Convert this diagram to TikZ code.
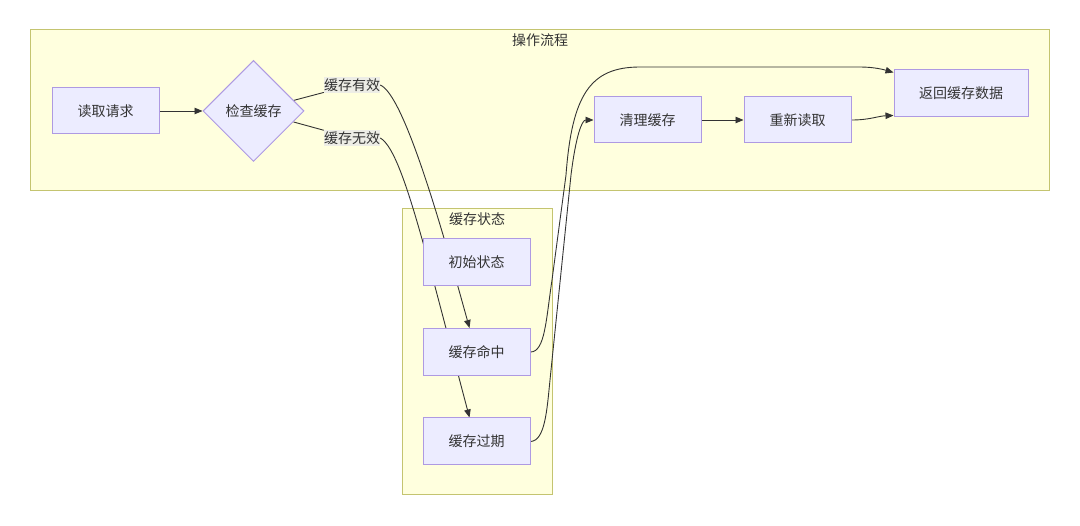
\documentclass[tikz,border=0pt]{standalone}
\usepackage{fontspec}
\setmainfont{Noto Sans CJK SC}
\usetikzlibrary{shapes.geometric,arrows.meta,positioning,calc}
\definecolor{nodefill}{HTML}{ECECFF}
\definecolor{nodeline}{HTML}{AE9AE2}
\definecolor{clusterfill}{HTML}{FFFFDE}
\definecolor{clusterline}{HTML}{C4C470}
\definecolor{edgecol}{HTML}{333333}
\definecolor{labelfill}{HTML}{EDEDE6}
\pgfdeclarelayer{back}
\pgfdeclarelayer{edges}
\pgfsetlayers{back,edges,main}
\tikzstyle{block} = [rectangle, draw=nodeline, fill=nodefill, line width=1pt, text=edgecol, minimum width=107pt, minimum height=46pt, inner sep=0pt, font=\fontsize{14}{16}\selectfont]
\tikzstyle{decision} = [diamond, draw=nodeline, fill=nodefill, line width=1pt, text=edgecol, minimum width=101pt, minimum height=101pt, inner sep=0pt, aspect=1, font=\fontsize{14}{16}\selectfont]
\tikzstyle{cluster} = [draw=clusterline, fill=clusterfill, line width=1pt]
\tikzstyle{clustertitle} = [text=edgecol, inner sep=0pt, font=\fontsize{14}{16}\selectfont]
\tikzstyle{edgelabel} = [fill=labelfill, text=edgecol, inner xsep=0pt, inner ysep=2pt, font=\fontsize{14}{16}\selectfont]
\tikzstyle{plainline} = [draw=edgecol, line width=0.9pt]
\tikzstyle{line} = [plainline, -{Triangle[length=8pt,width=6.5pt]}]
\begin{document}
\begin{tikzpicture}[x=1pt, y=-1pt]
      \useasboundingbox (0,0) rectangle (1080,526);
      % Clusters
      \begin{pgfonlayer}{back}
        \path [cluster] (30,30) rectangle (1049,191);
        \path [cluster] (402,209) rectangle (552,495);
      \end{pgfonlayer}
      \node [clustertitle] (flowtitle) at (540,40) {操作流程};
      \node [clustertitle] (statetitle) at (477,219) {缓存状态};

      % Place nodes
      \node [block] (req) at (105.5,111) {读取请求};
      \node [decision, right of=req, node distance=148pt] (check) {检查缓存};
      \node [block] (clean) at (647.5,120) {清理缓存};
      \node [block, right of=clean, node distance=150pt] (reread) {重新读取};
      \node [block, minimum width=134pt, minimum height=47pt] (ret) at (961,93.5) {返回缓存数据};
      \node [block, minimum height=47pt] (init) at (476.5,262.5) {初始状态};
      \node [block, minimum height=47pt, below of=init, node distance=89.5pt] (hit) {缓存命中};
      \node [block, minimum height=47pt, below of=hit, node distance=89.5pt] (expired) {缓存过期};
      \node [edgelabel] (valid) at (352,85) {缓存有效};
      \node [edgelabel] (invalid) at (352,138) {缓存无效};

      % Draw edges
      \begin{pgfonlayer}{edges}
        \path [line] (req) -- (check);
        \path [plainline] (check) -- (valid);
        \path [line] (valid.east) .. controls (405,95) and (445,240) .. ($(hit.north)+(-7,0)$);
        \path [plainline] (check) -- (invalid);
        \path [line] (invalid.east) .. controls (402,150) and (425,250) .. ($(expired.north)+(-7,0)$);
        \path [line] (hit.east) .. controls (545,352) and (546,320) .. (552,280) -- (566,175)
          .. controls (572,95) and (590,67) .. (640,67) -- (860,67)
          .. controls (875,67) and (885,70) .. ($(ret.north west)+(0,3)$);
        \path [line] (expired.east) .. controls (545,441) and (547,410) .. (550,380) -- (571,175)
          .. controls (576,135) and (582,120) .. (clean.west);
        \path [line] (clean) -- (reread);
        \path [line] (reread.east) .. controls (870,120) and (878,116) .. ($(ret.south west)+(0,-2)$);
      \end{pgfonlayer}
\end{tikzpicture}
\end{document}
